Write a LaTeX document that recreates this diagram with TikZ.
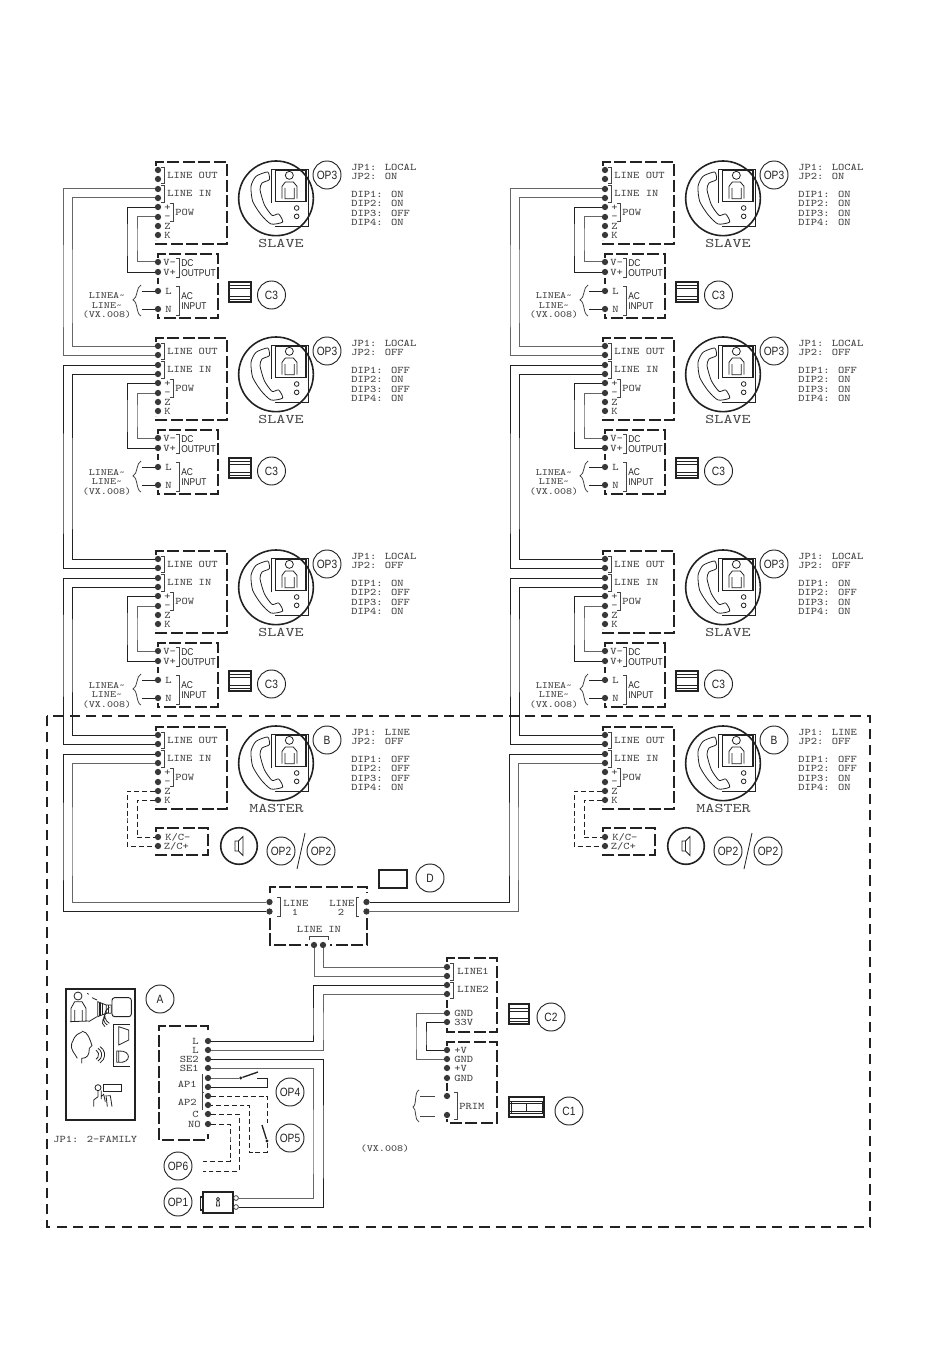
\documentclass[tikz,border=0pt]{standalone}
\usepackage{fontspec}
\newfontfamily\narf[FakeStretch=0.85]{Liberation Sans}
\newfontfamily\monof[FakeStretch=1.17]{Latin Modern Mono}
\newfontfamily\monos[FakeStretch=1.19]{Latin Modern Mono}
\newfontfamily\monob[FakeStretch=1.3]{Latin Modern Mono}
\definecolor{ink}{HTML}{222222}
\definecolor{wg}{HTML}{666666}
\definecolor{tx}{HTML}{444444}
\newcounter{tc}
\tikzset{
  term/.style={circle,fill=black!78,draw=none,inner sep=0pt,minimum size=4.7pt},
  optm/.style={circle,draw=ink,line width=.5pt,fill=white,inner sep=0pt,minimum size=3.6pt},
  wire/.style={ink,line width=.62pt},
  wireg/.style={wg,line width=.75pt},
  dwire/.style={ink,line width=.6pt,dash pattern=on 3.7pt off 2.2pt},
  boxd/.style={ink,line width=1.1pt,dash pattern=on 9pt off 2.6pt},
  bigd/.style={ink,line width=1.1pt,dash pattern=on 7.6pt off 4.6pt},
  brk/.style={tx,line width=.6pt},
  lab/.style={inner sep=0pt,text=tx,font=\monof\fontsize{7.6}{7.6}\selectfont},
  smlab/.style={inner sep=0pt,text=tx,font=\monos\fontsize{7.2}{7.2}\selectfont},
  bigl/.style={inner sep=0pt,text=tx,font=\monob\fontsize{9.9}{9.9}\selectfont},
  sans/.style={inner sep=0pt,text=ink,font=\narf\fontsize{7.4}{7.4}\selectfont},
  badge/.style={circle,draw=ink,line width=.7pt,inner sep=0pt,minimum size=21pt,text=ink,font=\narf\fontsize{9}{9}\selectfont},
  icon/.style={ink,line width=.6pt},
  iconb/.style={ink,line width=1.1pt},
}
\newcommand{\TL}[3]{\stepcounter{tc}\node[lab,anchor=base west,name=t\arabic{tc}] at (#1,#2+3.1) {#3};}
\newcommand{\TR}[3]{\stepcounter{tc}\node[lab,anchor=base east,name=t\arabic{tc}] at (#1,#2+3.1) {#3};}
\newcommand{\TC}[3]{\stepcounter{tc}\node[lab,anchor=base,name=t\arabic{tc}] at (#1,#2+3.1) {#3};}
\newcommand{\TS}[3]{\stepcounter{tc}\node[sans,anchor=base west,name=t\arabic{tc}] at (#1,#2+3.5) {#3};}
\newcommand{\BG}[3]{\stepcounter{tc}\node[badge,name=t\arabic{tc}] at (#1,#2) {#3};}
\newcommand{\brR}[3]{\draw[brk] (#1-3,#2) -- (#1,#2) -- (#1,#3) -- (#1-3,#3);}
\newcommand{\brL}[3]{\draw[brk] (#1+3,#2) -- (#1,#2) -- (#1,#3) -- (#1+3,#3);}
% station: prefix dx dy label centre-x badge
\newcommand{\station}[6]{%
\begin{scope}[shift={(#2,#3)}]
  \draw[boxd] (156,166) -- (156,162) -- (227,162) -- (227,244) -- (156,244) -- (156,240);
  \node[term] (#1o1) at (158,170) {};
  \node[term] (#1o2) at (158,179) {};
  \node[term] (#1i1) at (158,189) {};
  \node[term] (#1i2) at (158,198) {};
  \node[term] (#1p) at (158,207) {};
  \node[term] (#1m) at (158,217) {};
  \node[term] (#1z) at (158,226) {};
  \node[term] (#1k) at (158,235) {};
  \brR{164}{167}{183}\brR{164}{185}{202}\brR{173}{203}{221}
  \TL{167}{175}{LINE OUT}\TL{167}{193}{LINE IN}
  \TL{164}{207}{+}\TL{164}{216}{-}\TL{164}{226}{Z}\TL{164}{235}{K}
  \TL{175}{212}{POW}
  \begin{scope}[shift={(230,150)},x=.25pt,y=-.25pt]
    \draw[iconb,line width=1.2pt] (138,145) circle (112);
    \draw[icon] plot[smooth cycle,tension=.4] coordinates {(113,66) (78,79) (63,109) (68,154) (93,194) (123,222) (158,216) (146,192) (126,196) (103,164) (90,119) (96,99) (118,89)};
    \draw[icon,line width=.7pt] (125,160) -- (125,57) -- (236,57) -- (236,229) -- (136,229);
    \draw[icon,line width=.9pt] (136,62) rectangle (228,154);
    \draw[icon] (178,76) circle (12);
    \draw[icon] (156,146) -- (156,109) -- (166,96) -- (190,96) -- (201,109) -- (201,146) (165,114) -- (165,146) -- (193,146) -- (193,114);
    \draw[icon] (200,174) circle (7) (200,199) circle (7);
  \end{scope}
  \stepcounter{tc}\node[bigl,anchor=base,name=t\arabic{tc}] at (#5,247.5) {#4};
  \BG{327}{175}{#6}
\end{scope}}
\newcommand{\jpblock}[8]{%
\begin{scope}[shift={(#1,#2)}]
  \TL{351}{167}{JP1: #3}\TL{351}{176}{JP2: #4}
  \TL{351}{194.5}{DIP1: #5}\TL{351}{203.5}{DIP2: #6}\TL{351}{213}{DIP3: #7}\TL{351}{222}{DIP4: #8}
\end{scope}}
% power unit: prefix dx dy
\newcommand{\psu}[3]{%
\begin{scope}[shift={(#2,#3)}]
  \draw[boxd] (158,258) -- (158,254) -- (218,254) -- (218,318) -- (158,318) -- (158,314);
  \draw[boxd] (158,278) -- (158,284);
  \node[term] (#1vm) at (158,262) {};
  \node[term] (#1vp) at (158,272) {};
  \node[term] (#1l) at (158,291) {};
  \node[term] (#1n) at (158,309) {};
  \coordinate (#1bl) at (142,291);
  \coordinate (#1bn) at (142,309);
  \TL{163}{262}{V-}\TL{163}{272}{V+}\TL{165}{291}{L}\TL{165}{309}{N}
  \brR{179}{258}{277}\brR{179}{286}{315}
  \TS{181}{263}{DC}\TS{181}{273}{OUTPUT}\TS{181}{296}{AC}\TS{181}{306}{INPUT}
  \draw[brk] (141,285) .. controls (136,287) and (138,298) .. (133,300) .. controls (138,302) and (136,314) .. (141,316);
  \stepcounter{tc}\node[smlab,anchor=base,name=t\arabic{tc}] at (107,299) {LINEA\textasciitilde};
  \stepcounter{tc}\node[smlab,anchor=base,name=t\arabic{tc}] at (107,308.5) {LINE\textasciitilde};
  \stepcounter{tc}\node[smlab,anchor=base,name=t\arabic{tc}] at (107,318) {(VX.008)};
  \draw[icon,line width=.8pt] (229,282) rectangle (251,302);
  \draw[icon] (229,285) -- (251,285) (229,288.5) -- (251,288.5) (229,296) -- (251,296) (229,299) -- (251,299);
  \BG{271.5}{295}{C3}
  \draw[wire] (#1l) -- (#1bl);
  \draw[wire] (#1n) -- (#1bn);
  \draw[wire] (#1p) -| (127,240) |- (#1vp);
  \draw[wireg] (#1m) -| (137,240) |- (#1vm);
\end{scope}}
% master extras: prefix dx
\newcommand{\chime}[2]{%
\begin{scope}[shift={(#2,0)}]
  \draw[boxd] (156,832) -- (156,828) -- (208,828) -- (208,855) -- (156,855) -- (156,851);
  \node[term] (#1kc) at (158,837) {};
  \node[term] (#1zc) at (158,846) {};
  \TL{165}{837}{K/C-}\TL{163.5}{846}{Z/C+}
  \draw[dwire] (#1z) -| (127,820) |- (#1zc);
  \draw[dwire] (#1k) -| (137,820) |- (#1kc);
  \draw[iconb,line width=1.2pt] (239,846) circle (18.3);
  \draw[icon] (235,841) rectangle (238.5,851) (238.5,841) -- (243,836.5) -- (243,855.5) -- (238.5,851);
  \BG{281}{851}{OP2}\BG{321}{851}{OP2}
  \draw[icon] (305,833) -- (297,869);
\end{scope}}
\newcommand{\column}[2]{%
  \draw[wireg] (#1ai1) -| (#2+63,300) |- (#1bo2);
  \draw[wireg] (#1ai2) -| (#2+72,300) |- (#1bo1);
  \draw[wire] (#1bi1) -| (#2+63,500) |- (#1co2);
  \draw[wire] (#1bi2) -| (#2+72,500) |- (#1co1);
  \draw[wire] (#1ci1) -| (#2+63,650) |- (#1mo2);
  \draw[wire] (#1ci2) -| (#2+72,650) |- (#1mo1);
}
\begin{document}
\begin{tikzpicture}[x=.75pt,y=-.75pt]
\useasboundingbox (0,0) rectangle (950,1369);
\fill[white] (0,0) rectangle (950,1369);
% stations
\station{la}{0}{0}{SLAVE}{281}{OP3}\jpblock{0}{0}{LOCAL}{ON}{ON}{ON}{OFF}{ON}\psu{la}{0}{0}
\station{lb}{0}{176}{SLAVE}{281}{OP3}\jpblock{0}{176}{LOCAL}{OFF}{OFF}{ON}{OFF}{ON}\psu{lb}{0}{176}
\station{lc}{0}{389}{SLAVE}{281}{OP3}\jpblock{0}{389}{LOCAL}{OFF}{ON}{OFF}{OFF}{ON}\psu{lc}{0}{389}
\station{lm}{0}{565}{MASTER}{276.5}{B}\jpblock{0}{565}{LINE}{OFF}{OFF}{OFF}{OFF}{ON}
\station{ra}{447}{0}{SLAVE}{281}{OP3}\jpblock{447}{0}{LOCAL}{ON}{ON}{ON}{ON}{ON}\psu{ra}{447}{0}
\station{rb}{447}{176}{SLAVE}{281}{OP3}\jpblock{447}{176}{LOCAL}{OFF}{OFF}{ON}{ON}{ON}\psu{rb}{447}{176}
\station{rc}{447}{389}{SLAVE}{281}{OP3}\jpblock{447}{389}{LOCAL}{OFF}{ON}{OFF}{ON}{ON}\psu{rc}{447}{389}
\station{rm}{447}{565}{MASTER}{276.5}{B}\jpblock{447}{565}{LINE}{OFF}{OFF}{OFF}{ON}{ON}
\chime{lm}{0}\chime{rm}{447}
\column{l}{0}\column{r}{447}
% big dashed area
\draw[bigd] (47,716) rectangle (870,1227);
% distributor
\draw[boxd] (270,893) -- (270,887) -- (367,887) -- (367,893);
\draw[boxd] (270,918) -- (270,945) -- (308,945);
\draw[boxd] (367,918) -- (367,945) -- (330,945);
\node[term] (d1a) at (269.5,902) {};
\node[term] (d1b) at (269.5,911.5) {};
\node[term] (d2a) at (366.5,902) {};
\node[term] (d2b) at (366.5,911.5) {};
\node[term] (dia) at (314,945) {};
\node[term] (dib) at (323,945) {};
\brR{280}{897}{916}\brL{356}{897}{916}
\TL{283}{903}{LINE}\TC{295}{912}{1}\TL{329}{903}{LINE}\TC{341}{912}{2}\TC{319}{929}{LINE IN}
\draw[brk] (309,940) -- (309,936) -- (328,936) -- (328,940);
\draw[icon,line width=1pt] (379,870) rectangle (407,888);
\BG{430}{878}{D}
\draw[wire] (lmi1) -| (63,850) |- (d1b);
\draw[wireg] (lmi2) -| (72,850) |- (d1a);
\draw[wireg] (rmi2) -| (518,850) |- (d2b);
\draw[wire] (rmi1) -| (509,850) |- (d2a);
% power supply C2
\draw[boxd] (447,962) -- (447,958) -- (497,958) -- (497,1032) -- (447,1032) -- (447,1028);
\draw[boxd] (447,1000) -- (447,1008);
\node[term] (p1) at (447,967) {};
\node[term] (p2) at (447,976) {};
\node[term] (p3) at (447,985) {};
\node[term] (p4) at (447,994) {};
\node[term] (pg) at (447,1013) {};
\node[term] (pv) at (447,1022) {};
\brR{453}{963}{980}\brR{453}{982}{998}
\TL{457}{971}{LINE1}\TL{457}{989}{LINE2}\TL{454}{1013}{GND}\TL{454}{1022}{33V}
\draw[icon,line width=.8pt] (509,1004) rectangle (529,1024);
\draw[icon] (509,1008) -- (529,1008) (509,1011) -- (529,1011) (509,1018) -- (529,1018) (509,1021) -- (529,1021);
\BG{551}{1017}{C2}
% power supply C1
\draw[boxd] (447,1046) -- (447,1042) -- (497,1042) -- (497,1123) -- (447,1123) -- (447,1119);
\draw[boxd] (447,1083) -- (447,1091);
\node[term] (q1) at (447,1050) {};
\node[term] (q2) at (447,1059) {};
\node[term] (q3) at (447,1068) {};
\node[term] (q4) at (447,1078) {};
\node[term] (q5) at (447,1096) {};
\node[term] (q6) at (447,1115) {};
\coordinate (qa) at (420,1096);
\coordinate (qb) at (420,1116);
\coordinate (qc) at (435,1096);
\coordinate (qd) at (435,1116);
\TL{454}{1050}{+V}\TL{454}{1059}{GND}\TL{454}{1068}{+V}\TL{454}{1078}{GND}
\TL{459}{1106}{PRIM}
\brR{457}{1092}{1119}
\draw[brk] (419,1090) .. controls (414,1092) and (417,1105) .. (413,1107) .. controls (417,1109) and (414,1120) .. (419,1122);
\draw[brk] (qa) -- (qc);
\draw[brk] (qb) -- (qd);
\draw[icon,line width=.8pt] (509,1097) rectangle (544,1117);
\draw[icon] (509,1101) -- (544,1101) (509,1103.5) -- (544,1103.5) (509,1111) -- (544,1111) (509,1113.5) -- (544,1113.5) (526,1103.5) -- (526,1111) (511,1101) -- (511,1113.5) (542,1101) -- (542,1113.5);
\BG{569}{1111}{C1}
\draw[wireg] (dib) |- (p1);
\draw[wireg] (dia) |- (p2);
\draw[wireg] (pg) -| (416,1040) |- (q2);
\draw[wire] (pv) -| (426,1040) |- (q1);
% door panel
\draw[iconb,line width=1.3pt] (66,989) rectangle (135,1120);
\BG{160}{999}{A}
\TL{53}{1139}{JP1: 2-FAMILY}
\draw[boxd] (208,1030) -- (208,1026) -- (159,1026) -- (159,1140) -- (208,1140) -- (208,1134);
\node[term] (e1) at (208,1041) {};
\node[term] (e2) at (208,1050) {};
\node[term] (e3) at (208,1059) {};
\node[term] (e4) at (208,1068) {};
\node[term] (e5) at (208,1078) {};
\node[term] (e6) at (208,1087) {};
\node[term] (e7) at (208,1096) {};
\node[term] (e8) at (208,1105) {};
\node[term] (e9) at (208,1114) {};
\node[term] (e10) at (208,1124) {};
\TR{199}{1041}{L}\TR{199}{1050}{L}\TR{199}{1059}{SE2}\TR{199}{1068}{SE1}
\TR{197}{1084}{AP1}\TR{197}{1102}{AP2}\TR{199}{1114}{C}\TR{201}{1124}{NO}
\draw[brk] (202,1074) -- (202,1110) (202,1092) -- (203.5,1092);
\draw[wire] (p3) -| (313,1030) |- (e1);
\draw[wireg] (p4) -| (323,1030) |- (e2);
% switches
\coordinate (s1) at (240.7,1078);
\coordinate (s2) at (258,1072);
\coordinate (s3) at (257,1078);
\node[circle,fill=ink,inner sep=0pt,minimum size=2.4pt] (s1d) at (s1) {};
\draw[wireg] (e5) -- (s1d);
\draw[icon,line width=1pt] (s1d) -- (s2);
\draw[wire] (s3) -- (267.3,1078) |- (e6);
\BG{290}{1092}{OP4}
\coordinate (s4) at (267,1123);
\coordinate (s5) at (262,1125);
\node[circle,fill=ink,inner sep=0pt,minimum size=2.4pt] (s6d) at (267,1141) {};
\draw[dwire] (e7) -| (s4);
\draw[icon,line width=1pt] (s5) -- (s6d);
\draw[dwire] (s6d) |- (249,1152) |- (e8);
\BG{290}{1138}{OP5}
\coordinate (o6a) at (203,1171);
\coordinate (o6b) at (203,1161);
\draw[dwire] (e9) -| (239,1140) |- (o6a);
\draw[dwire] (e10) -| (230,1140) |- (o6b);
\BG{178}{1166}{OP6}
% lock
\draw[icon,line width=.8pt] (203,1192) rectangle (233,1213);
\draw[icon,line width=.8pt] (203,1197) -- (200.5,1197) -- (200.5,1210) -- (203,1210);
\draw[icon] (218,1199) circle (1.6) (217,1200.5) -- (216.5,1206) -- (219.5,1206) -- (219,1200.5);
\node[optm] (k1) at (236,1198) {};
\node[optm] (k2) at (236,1207) {};
\draw[wire] (e3) -| (323,1150) |- (k2);
\draw[wireg] (e4) -| (313,1150) |- (k1);
\BG{178}{1202}{OP1}
\stepcounter{tc}\node[smlab,name=t\arabic{tc}] at (385,1149) {(VX.008)};
% pictogram panel
\begin{scope}[shift={(50,975)},x=.25pt,y=-.25pt]
  \draw[icon] (84,63) circle (12);
  \draw[icon] (63,140) -- (63,100) -- (74,80) -- (96,80) -- (108,100) -- (108,140) (74,105) -- (74,138) (97,105) -- (97,138) (60,140) -- (116,138);
  \draw[icon] (112,55) -- (116,58) (126,68) -- (141,75) (116,140) -- (141,125);
  \draw[icon,rounded corners=2pt,line width=.7pt] (186,68) rectangle (244,125);
  \draw[icon] (143,80) -- (169,90) -- (169,115) -- (143,125) -- cycle (169,90) -- (184,90) -- (184,115) -- (169,115);
  \draw[icon,line width=.9pt] (150,83) -- (150,122) (158,86) -- (158,119);
  \draw[icon] (176,90) -- (176,115);
  \draw[icon] (191,275) -- (241,275) (191,275) -- (191,148) -- (241,148);
  \draw[icon] (206,155) -- (206,210) -- (236,195) -- (236,165) -- cycle;
  \draw[icon] (200,228) rectangle (206,262) (206,228) .. controls (245,225) and (245,265) .. (206,262);
  \draw[icon] (95,168) .. controls (115,170) and (120,195) .. (126,212) -- (118,220) .. controls (118,240) and (112,250) .. (95,250) -- (95,265);
  \draw[icon] (95,172) .. controls (70,180) and (72,195) .. (65,205) .. controls (60,225) and (75,235) .. (82,250);
  \draw[icon] (165,155) arc (120:240:16) (172,150) arc (120:240:22) (178,145) arc (120:240:28);
  \draw[icon] (138,225) arc (-60:60:16) (144,220) arc (-60:60:22) (150,215) arc (-60:60:28);
  \draw[icon] (144,338) circle (9);
  \draw[icon,line width=.7pt] (161,328) rectangle (214,348);
  \draw[icon] (131,395) -- (131,375) -- (144,365) -- (144,348) (154,347) -- (154,372) (154,364) -- (161,358) -- (166,380) (168,360) -- (172,395) (172,362) -- (181,362) -- (186,395);
\end{scope}
\end{tikzpicture}
\end{document}
